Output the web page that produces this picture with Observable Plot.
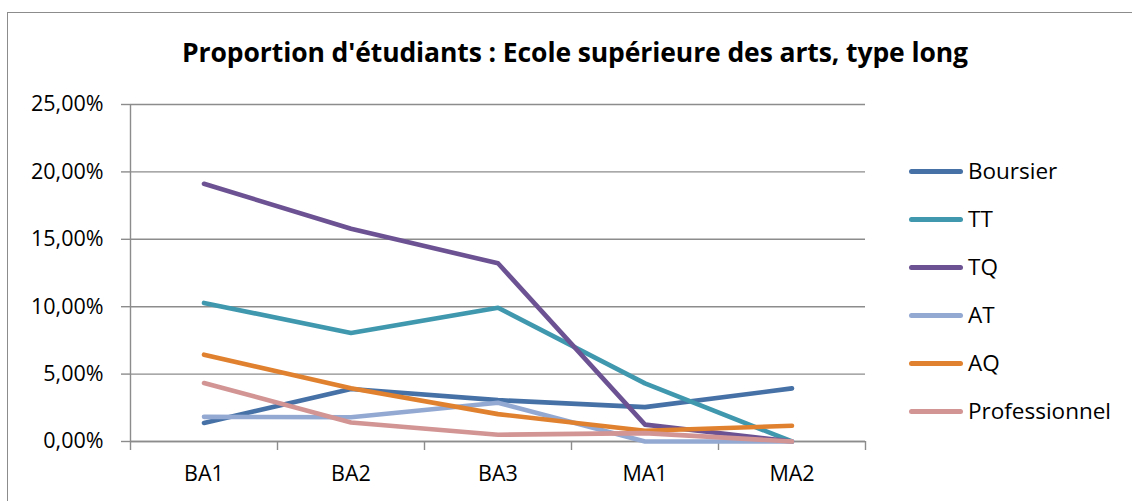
<!DOCTYPE html>
<html>
<head>
<meta charset="utf-8">
<script src="https://cdn.jsdelivr.net/npm/d3@7"></script>
<script src="https://cdn.jsdelivr.net/npm/@observablehq/plot@0.6"></script>
<style>
  html, body { margin: 0; padding: 0; background: #fff; overflow: hidden; }
  #wrap { position: relative; width: 1132px; height: 501px; overflow: hidden; font-family: "Open Sans", sans-serif; }
  #frame { position: absolute; left: 7px; top: 12px; width: 1200px; height: 600px; border: 1.4px solid #8c8c8c; box-sizing: border-box; }
  #title { position: absolute; left: 0; width: 1150px; top: 34px; text-align: center; font-weight: bold; font-size: 26.5px; color: #000; letter-spacing: -0.1px; }
  #plot { position: absolute; left: 0; top: 0; }
  #legend { position: absolute; left: 909px; top: 147px; }
  .item { position: relative; height: 48px; display: flex; align-items: center; }
  .sw { width: 54px; height: 5px; border-radius: 3px; margin-right: 5px; }
  .lab { font-size: 22.5px; color: #000; line-height: 1; }
</style>
</head>
<body>
<div id="wrap">
  <div id="frame"></div>
  <div id="plot"></div>
  <div id="title">Proportion d'étudiants : Ecole supérieure des arts, type long</div>
  <div id="legend"></div>
</div>
<script>
const categories = ["BA1", "BA2", "BA3", "MA1", "MA2"];
const seriesNames = ["Boursier", "TT", "TQ", "AT", "AQ", "Professionnel"];
const seriesColors = ["#4671a6", "#3f98ae", "#6c5292", "#93a9d2", "#e0812f", "#d39494"];
const boursier = [0.0137, 0.0390, 0.0307, 0.0255, 0.0394];
const tt = [0.1028, 0.0805, 0.0992, 0.0431, 0.0];
const tq = [0.1912, 0.1578, 0.1322, 0.0125, 0.0];
const at = [0.0183, 0.0180, 0.0287, 0.0, 0.0];
const aq = [0.0644, 0.0395, 0.0203, 0.0080, 0.0117];
const professionnel = [0.0434, 0.0141, 0.0050, 0.0062, 0.0];
const yTicks = [0, 0.05, 0.10, 0.15, 0.20, 0.25];

const seriesValues = [boursier, tt, tq, at, aq, professionnel];
const data = [];
seriesNames.forEach((s, k) => {
  seriesValues[k].forEach((v, i) => data.push({series: s, idx: i, cat: categories[i], value: v}));
});

const centers = d3.range(categories.length);
const bounds = d3.range(categories.length + 1).map(i => i - 0.5);
const fmt = v => d3.format(".2%")(v).replace(".", ",");
const gridColor = "#8c8c8c";

const chart = Plot.plot({
  width: 1132,
  height: 501,
  marginLeft: 130,
  marginRight: 267,
  marginTop: 104,
  marginBottom: 60,
  style: {fontFamily: "'Open Sans', sans-serif", fontSize: "21.5px", color: "#000", background: "transparent"},
  x: {type: "linear", domain: [-0.5, categories.length - 0.5]},
  y: {domain: [0, 0.25]},
  color: {domain: seriesNames, range: seriesColors},
  marks: [
    Plot.gridY(yTicks, {stroke: gridColor, strokeOpacity: 1, strokeWidth: 1.4}),
    Plot.ruleX([-0.5], {stroke: gridColor, strokeWidth: 1.4}),
    Plot.ruleY([0], {stroke: gridColor, strokeWidth: 1.4}),
    Plot.axisY({ticks: yTicks, tickFormat: fmt, tickSize: 9, tickPadding: 18, stroke: gridColor, strokeWidth: 1.4, label: null, fill: "#000"}),
    Plot.axisX({ticks: bounds, tickFormat: () => "", tickSize: 9, stroke: gridColor, strokeWidth: 1.4, label: null}),
    Plot.axisX({ticks: centers, tickFormat: i => categories[i], tickSize: 0, tickPadding: 24, label: null, fill: "#000"}),
    Plot.line(data, {x: "idx", y: "value", z: "series", stroke: "series", strokeWidth: 4.6, strokeLinecap: "round", strokeLinejoin: "round"})
  ]
});
document.getElementById("plot").appendChild(chart);

const legend = d3.select("#legend");
seriesNames.forEach((s, k) => {
  const it = legend.append("div").attr("class", "item");
  it.append("div").attr("class", "sw").style("background", seriesColors[k]);
  it.append("div").attr("class", "lab").text(s);
});
</script>
</body>
</html>
